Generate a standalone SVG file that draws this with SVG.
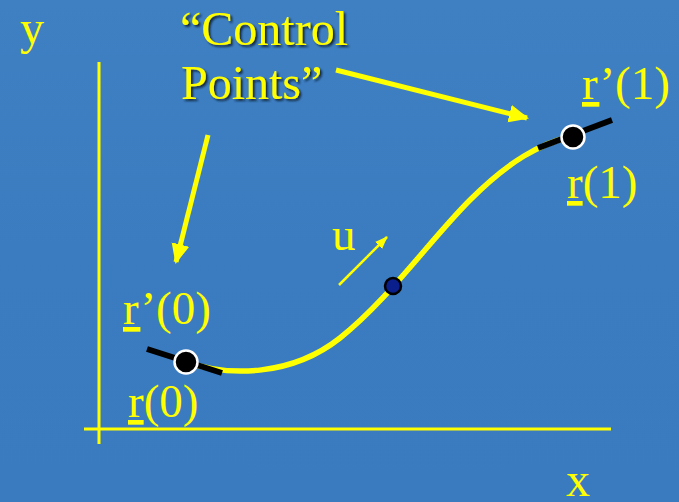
<svg xmlns="http://www.w3.org/2000/svg" width="679" height="502" viewBox="0 0 679 502">
<style>
.t{font-family:"Liberation Serif","Times New Roman",serif;fill:#ffff00;font-size:47px}
.big{font-size:48px}
.u{text-decoration:underline}
.ax{stroke:#ffff00;stroke-width:3;fill:none}
.arr{stroke:#ffff00;stroke-width:5;fill:none}
.tan{stroke:#000;stroke-width:6;fill:none}
</style>
<defs>
<linearGradient id="bg" x1="0" y1="0" x2="0" y2="1">
<stop offset="0" stop-color="#3f80c3"/>
<stop offset="0.5" stop-color="#3b7cc0"/>
<stop offset="1" stop-color="#3a7bbf"/>
</linearGradient>
<marker id="ah" markerUnits="userSpaceOnUse" markerWidth="22" markerHeight="20" refX="18" refY="9" orient="auto">
<path d="M0,0 L20,9 L0,18 Z" fill="#ffff00"/>
</marker>
<marker id="ahs" markerUnits="userSpaceOnUse" markerWidth="14" markerHeight="12" refX="12" refY="5" orient="auto">
<path d="M0,0 L13,5 L0,10 Z" fill="#ffff00"/>
</marker>
<filter id="sh" x="-10%" y="-10%" width="130%" height="140%">
<feDropShadow dx="2" dy="2" stdDeviation="1" flood-color="#0a1a30" flood-opacity="0.9"/>
</filter>
</defs>
<rect width="679" height="502" fill="url(#bg)"/>
<g id="axes">
<line class="ax" x1="99" y1="62" x2="99" y2="444"/>
<line class="ax" x1="84" y1="429" x2="611" y2="429"/>
<text class="t big" x="20" y="44">y</text>
<text class="t big" x="566" y="496">x</text>
</g>
<g id="curve">
<path d="M186,362 C230,377 292,376 340,338 S430,240 470,200 S540,144 572,136" stroke="#ffff00" stroke-width="5.5" fill="none"/>
</g>
<g id="connectors">
<line class="arr" x1="208" y1="135" x2="176" y2="262" marker-end="url(#ah)"/>
<line class="arr" x1="336" y1="70" x2="527" y2="118" marker-end="url(#ah)"/>
<line stroke="#ffff00" stroke-width="2.5" x1="339" y1="285" x2="387" y2="237" marker-end="url(#ahs)"/>
</g>
<g id="label-control-points" filter="url(#sh)">
<text class="t big" x="180" y="45">“Control</text>
<text class="t big" x="181" y="99">Points”</text>
</g>
<g id="point-r0">
<line class="tan" x1="147" y1="349" x2="222" y2="373"/>
<circle cx="186" cy="362" r="11.5" fill="#000" stroke="#fff" stroke-width="2.5"/>
<text class="t" x="123" y="324"><tspan class="u">r</tspan>’(0)</text>
<text class="t" x="128" y="417"><tspan class="u">r</tspan>(0)</text>
</g>
<g id="point-r1">
<line class="tan" x1="538" y1="148" x2="612" y2="120"/>
<circle cx="573" cy="137" r="11.5" fill="#000" stroke="#fff" stroke-width="2.5"/>
<text class="t" x="582" y="99"><tspan class="u">r</tspan>’(1)</text>
<text class="t" x="567" y="198"><tspan class="u">r</tspan>(1)</text>
</g>
<g id="point-u">
<circle cx="393" cy="286" r="8" fill="#0a1e8c" stroke="#000" stroke-width="2.5"/>
<text class="t" x="332" y="250">u</text>
</g>
</svg>
